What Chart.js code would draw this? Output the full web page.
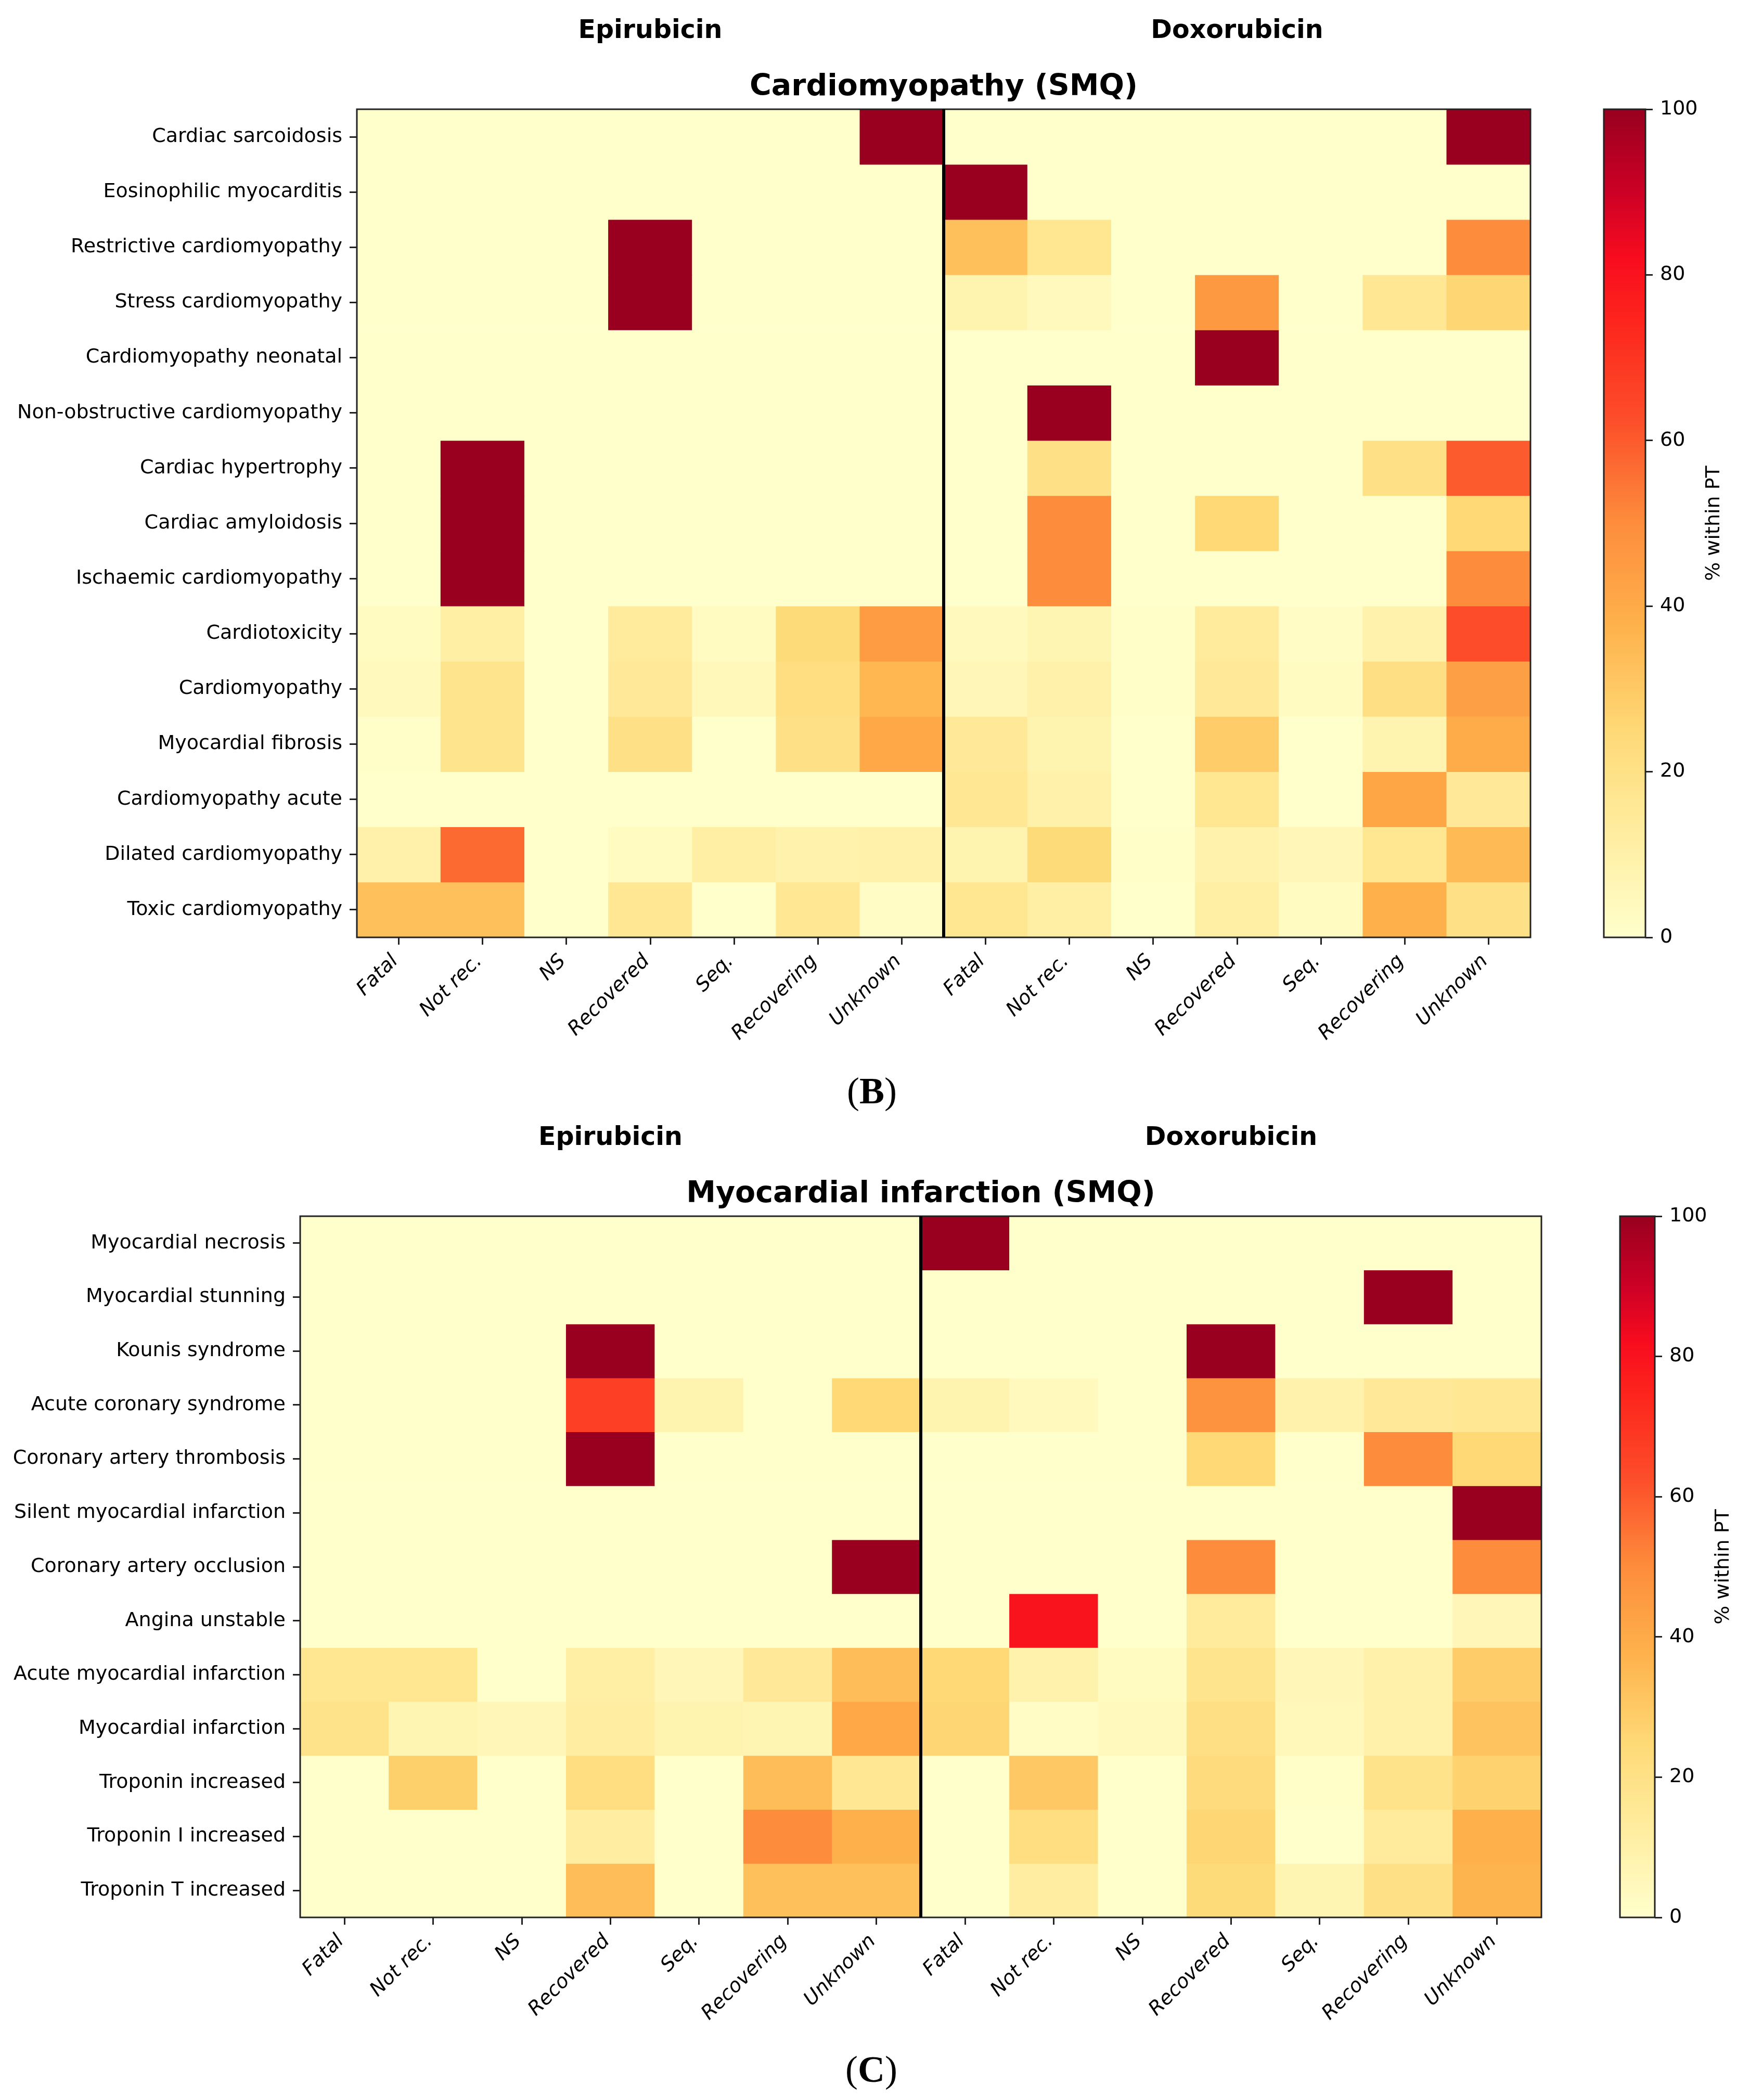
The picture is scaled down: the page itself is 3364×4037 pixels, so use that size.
<!DOCTYPE html>
<html>
<head>
<meta charset="utf-8">
<title>Epirubicin vs Doxorubicin outcomes</title>
<script src="https://cdn.jsdelivr.net/npm/chart.js@4.4.1/dist/chart.umd.min.js"></script>
<style>
    body { margin: 0; background: #fff; width: 3364px; height: 4037px; position: relative; overflow: hidden; }
    .box { position: absolute; }
    .panel-label { position: absolute; font-family: 'Liberation Serif', serif; font-size: 72px; line-height: 1; transform: translate(-50%, -50%); }
</style>
</head>
<body>
<div class="box" style="left:0;top:0;width:3064px;height:2150px"><canvas id="cmChart"></canvas></div>
<div class="box" style="left:3000px;top:0;width:364px;height:2150px"><canvas id="cmBar"></canvas></div>
<div class="panel-label" style="left:1676px;top:2097px">(<b>B</b>)</div>
<div class="box" style="left:0;top:2150px;width:3064px;height:1887px"><canvas id="miChart"></canvas></div>
<div class="box" style="left:3000px;top:2150px;width:364px;height:1887px"><canvas id="miBar"></canvas></div>
<div class="panel-label" style="left:1675px;top:3978px">(<b>C</b>)</div>

<script>
// Outcome columns, repeated for each drug
const outcomes = ['Fatal', 'Not rec.', 'NS', 'Recovered', 'Seq.', 'Recovering', 'Unknown'];
const drugs = ['Epirubicin', 'Doxorubicin'];
const colorbarTicks = [0, 20, 40, 60, 80, 100];

// Cardiomyopathy (SMQ)
const cmRows = [
    'Cardiac sarcoidosis', 'Eosinophilic myocarditis', 'Restrictive cardiomyopathy',
    'Stress cardiomyopathy', 'Cardiomyopathy neonatal', 'Non-obstructive cardiomyopathy',
    'Cardiac hypertrophy', 'Cardiac amyloidosis', 'Ischaemic cardiomyopathy',
    'Cardiotoxicity', 'Cardiomyopathy', 'Myocardial fibrosis',
    'Cardiomyopathy acute', 'Dilated cardiomyopathy', 'Toxic cardiomyopathy'
];
const cmEpirubicin = [
    [0, 0, 0, 0, 0, 0, 100],
    [0, 0, 0, 0, 0, 0, 0],
    [0, 0, 0, 100, 0, 0, 0],
    [0, 0, 0, 100, 0, 0, 0],
    [0, 0, 0, 0, 0, 0, 0],
    [0, 0, 0, 0, 0, 0, 0],
    [0, 100, 0, 0, 0, 0, 0],
    [0, 100, 0, 0, 0, 0, 0],
    [0, 100, 0, 0, 0, 0, 0],
    [3, 11, 0, 14, 3, 24, 45],
    [4, 18, 0, 15, 5, 22, 36],
    [1, 18, 0, 20, 0, 20, 41],
    [0, 0, 0, 0, 0, 0, 0],
    [10, 57, 0, 3, 11, 9, 10],
    [33, 33, 0, 16, 0, 16, 2]
];
const cmDoxorubicin = [
    [0, 0, 0, 0, 0, 0, 100],
    [100, 0, 0, 0, 0, 0, 0],
    [33, 17, 0, 0, 0, 0, 50],
    [8, 4, 0, 46, 0, 16, 26],
    [0, 0, 0, 100, 0, 0, 0],
    [0, 100, 0, 0, 0, 0, 0],
    [0, 20, 0, 0, 0, 20, 60],
    [0, 50, 0, 25, 0, 0, 25],
    [0, 50, 0, 0, 0, 0, 50],
    [4, 7, 1, 14, 2, 9, 63],
    [6, 10, 1, 15, 3, 21, 44],
    [15, 8, 0, 29, 0, 8, 40],
    [16, 10, 0, 17, 0, 42, 15],
    [8, 24, 1, 9, 6, 17, 35],
    [17, 11, 0, 11, 3, 38, 20]
];

// Myocardial infarction (SMQ)
const miRows = [
    'Myocardial necrosis', 'Myocardial stunning', 'Kounis syndrome',
    'Acute coronary syndrome', 'Coronary artery thrombosis', 'Silent myocardial infarction',
    'Coronary artery occlusion', 'Angina unstable', 'Acute myocardial infarction',
    'Myocardial infarction', 'Troponin increased', 'Troponin I increased', 'Troponin T increased'
];
const miEpirubicin = [
    [0, 0, 0, 0, 0, 0, 0],
    [0, 0, 0, 0, 0, 0, 0],
    [0, 0, 0, 100, 0, 0, 0],
    [0, 0, 0, 67, 8, 0, 25],
    [0, 0, 0, 100, 0, 0, 0],
    [0, 0, 0, 0, 0, 0, 0],
    [0, 0, 0, 0, 0, 0, 100],
    [0, 0, 0, 0, 0, 0, 0],
    [17, 17, 0, 11, 6, 15, 34],
    [19, 7, 6, 12, 8, 7, 41],
    [0, 28, 0, 22, 0, 34, 16],
    [0, 0, 0, 12, 0, 50, 38],
    [0, 0, 0, 34, 0, 33, 33]
];
const miDoxorubicin = [
    [100, 0, 0, 0, 0, 0, 0],
    [0, 0, 0, 0, 0, 100, 0],
    [0, 0, 0, 100, 0, 0, 0],
    [8, 4, 0, 48, 9, 15, 16],
    [0, 0, 0, 25, 0, 50, 25],
    [0, 0, 0, 0, 0, 0, 100],
    [0, 0, 0, 50, 0, 0, 50],
    [0, 80, 0, 14, 0, 0, 6],
    [25, 9, 3, 18, 6, 10, 29],
    [26, 2, 4, 21, 5, 10, 32],
    [0, 30, 0, 23, 1, 19, 27],
    [0, 22, 0, 26, 0, 14, 38],
    [0, 12, 0, 24, 7, 20, 37]
];

// YlOrRd-like colour stops (as they appear in the figure)
const cmapStops = [
    [0, [255, 255, 204]],
    [12.5, [255, 237, 160]],
    [25, [254, 217, 118]],
    [37.5, [254, 178, 76]],
    [50, [253, 141, 60]],
    [62.5, [252, 78, 42]],
    [75, [253, 35, 28]],
    [82, [248, 12, 30]],
    [90, [205, 0, 38]],
    [100, [153, 0, 31]]
];

function colorFor(v) {
    for (let i = 1; i < cmapStops.length; i++) {
        const [p1, c1] = cmapStops[i];
        const [p0, c0] = cmapStops[i - 1];
        if (v <= p1) {
            const t = (v - p0) / (p1 - p0);
            const c = c0.map((a, k) => Math.round(a + (c1[k] - a) * t));
            return `rgb(${c[0]},${c[1]},${c[2]})`;
        }
    }
    const c = cmapStops[cmapStops.length - 1][1];
    return `rgb(${c[0]},${c[1]},${c[2]})`;
}

Chart.defaults.font.family = "'DejaVu Sans'";
Chart.defaults.color = '#000';

const axisColor = '#222';

// Outline of the plot area + divider between the two drugs + headers
const heatmapDecor = {
    id: 'heatmapDecor',
    afterDatasetsDraw(chart, args, opts) {
        const { ctx, chartArea: a, scales: { x } } = chart;
        ctx.save();
        ctx.strokeStyle = axisColor;
        ctx.lineWidth = 3;
        ctx.strokeRect(a.left, a.top, a.right - a.left, a.bottom - a.top);
        const splitX = x.getPixelForValue(outcomes.length - 0.5);
        ctx.strokeStyle = '#000';
        ctx.lineWidth = 6;
        ctx.beginPath();
        ctx.moveTo(splitX, a.top);
        ctx.lineTo(splitX, a.bottom);
        ctx.stroke();

        ctx.fillStyle = '#000';
        ctx.textAlign = 'center';
        ctx.textBaseline = 'middle';
        ctx.font = "bold 49px 'DejaVu Sans'";
        drugs.forEach((d, i) => {
            const cx = x.getPixelForValue(i * outcomes.length + (outcomes.length - 1) / 2);
            ctx.fillText(d, cx, a.top - 150);
        });
        ctx.font = "bold 57px 'DejaVu Sans'";
        ctx.fillText(opts.title, (a.left + a.right) / 2, a.top - 42);
        ctx.restore();
    }
};

function buildHeatmap(canvasId, title, rows, epi, doxo, layout) {
    const datasets = rows.map((name, r) => {
        const values = epi[r].concat(doxo[r]);
        return {
            label: name,
            data: values.map(() => [r - 0.5, r + 0.5]),
            backgroundColor: values.map(v => colorFor(v)),
            borderWidth: 0,
            grouped: false,
            barPercentage: 1,
            categoryPercentage: 1
        };
    });

    return new Chart(document.getElementById(canvasId), {
        type: 'bar',
        data: { labels: outcomes.concat(outcomes), datasets: datasets },
        plugins: [heatmapDecor],
        options: {
            responsive: true,
            maintainAspectRatio: false,
            animation: false,
            layout: { padding: { top: layout.top, right: layout.right, left: 0, bottom: 0 } },
            plugins: {
                legend: { display: false },
                tooltip: { enabled: false },
                heatmapDecor: { title: title }
            },
            scales: {
                x: {
                    type: 'category',
                    grid: { offset: false, drawOnChartArea: false, drawTicks: true, tickLength: 14, lineWidth: 3, color: axisColor },
                    border: { display: false },
                    ticks: {
                        autoSkip: false,
                        minRotation: 45,
                        maxRotation: 45,
                        padding: 10,
                        labelOffset: -7,
                        font: { size: 38, style: 'italic' },
                        color: '#000'
                    },
                    afterFit: s => { s.height = layout.xAxis; }
                },
                y: {
                    type: 'linear',
                    reverse: true,
                    min: -0.5,
                    max: rows.length - 0.5,
                    afterBuildTicks: s => { s.ticks = rows.map((_, i) => ({ value: i })); },
                    grid: { drawOnChartArea: false, drawTicks: true, tickLength: 14, lineWidth: 3, color: axisColor },
                    border: { display: false },
                    ticks: {
                        autoSkip: false,
                        padding: 14,
                        font: { size: 38 },
                        color: '#000',
                        callback: v => rows[v]
                    },
                    afterFit: s => { s.width = layout.yAxis; }
                }
            }
        }
    });
}

// Colour bar label drawn reading bottom-to-top
const colorbarLabel = {
    id: 'colorbarLabel',
    afterDraw(chart) {
        const { ctx, chartArea: a } = chart;
        ctx.save();
        ctx.translate(a.right + 132, (a.top + a.bottom) / 2);
        ctx.rotate(-Math.PI / 2);
        ctx.fillStyle = '#000';
        ctx.textAlign = 'center';
        ctx.textBaseline = 'middle';
        ctx.font = "38px 'DejaVu Sans'";
        ctx.fillText('% within PT', 0, 0);
        ctx.restore();
        ctx.save();
        ctx.strokeStyle = axisColor;
        ctx.lineWidth = 3;
        ctx.strokeRect(a.left, a.top, a.right - a.left, a.bottom - a.top);
        ctx.restore();
    }
};

function buildColorbar(canvasId, layout) {
    const lo = colorbarTicks[0];
    const hi = colorbarTicks[colorbarTicks.length - 1];
    return new Chart(document.getElementById(canvasId), {
        type: 'bar',
        data: {
            labels: [''],
            datasets: [{
                data: [[lo, hi]],
                borderWidth: 0,
                barPercentage: 1,
                categoryPercentage: 1,
                backgroundColor: c => {
                    const { chart } = c;
                    const y = chart.scales.y;
                    if (!chart.chartArea || !y) return colorFor(50);
                    const g = chart.ctx.createLinearGradient(0, y.getPixelForValue(lo), 0, y.getPixelForValue(hi));
                    cmapStops.forEach(([p, col]) => g.addColorStop((p - lo) / (hi - lo), `rgb(${col[0]},${col[1]},${col[2]})`));
                    return g;
                }
            }]
        },
        plugins: [colorbarLabel],
        options: {
            responsive: true,
            maintainAspectRatio: false,
            animation: false,
            layout: { padding: { top: layout.top, bottom: layout.bottom, left: layout.left, right: 0 } },
            plugins: { legend: { display: false }, tooltip: { enabled: false } },
            scales: {
                x: { display: false },
                y: {
                    position: 'right',
                    min: lo,
                    max: hi,
                    afterBuildTicks: s => { s.ticks = colorbarTicks.map(v => ({ value: v })); },
                    grid: { drawOnChartArea: false, drawTicks: true, tickLength: 14, lineWidth: 3, color: axisColor },
                    border: { display: false },
                    ticks: { padding: 14, font: { size: 38 }, color: '#000' },
                    afterFit: s => { s.width = layout.axis; }
                }
            }
        }
    });
}

document.addEventListener('DOMContentLoaded', () => {
    buildHeatmap('cmChart', 'Cardiomyopathy (SMQ)', cmRows, cmEpirubicin, cmDoxorubicin,
        { top: 210, right: 122, yAxis: 686, xAxis: 348 });
    buildColorbar('cmBar', { top: 210, bottom: 348, left: 83, axis: 201 });
    buildHeatmap('miChart', 'Myocardial infarction (SMQ)', miRows, miEpirubicin, miDoxorubicin,
        { top: 188, right: 101, yAxis: 577, xAxis: 351 });
    buildColorbar('miBar', { top: 188, bottom: 351, left: 114, axis: 183 });
});
</script>
</body>
</html>
